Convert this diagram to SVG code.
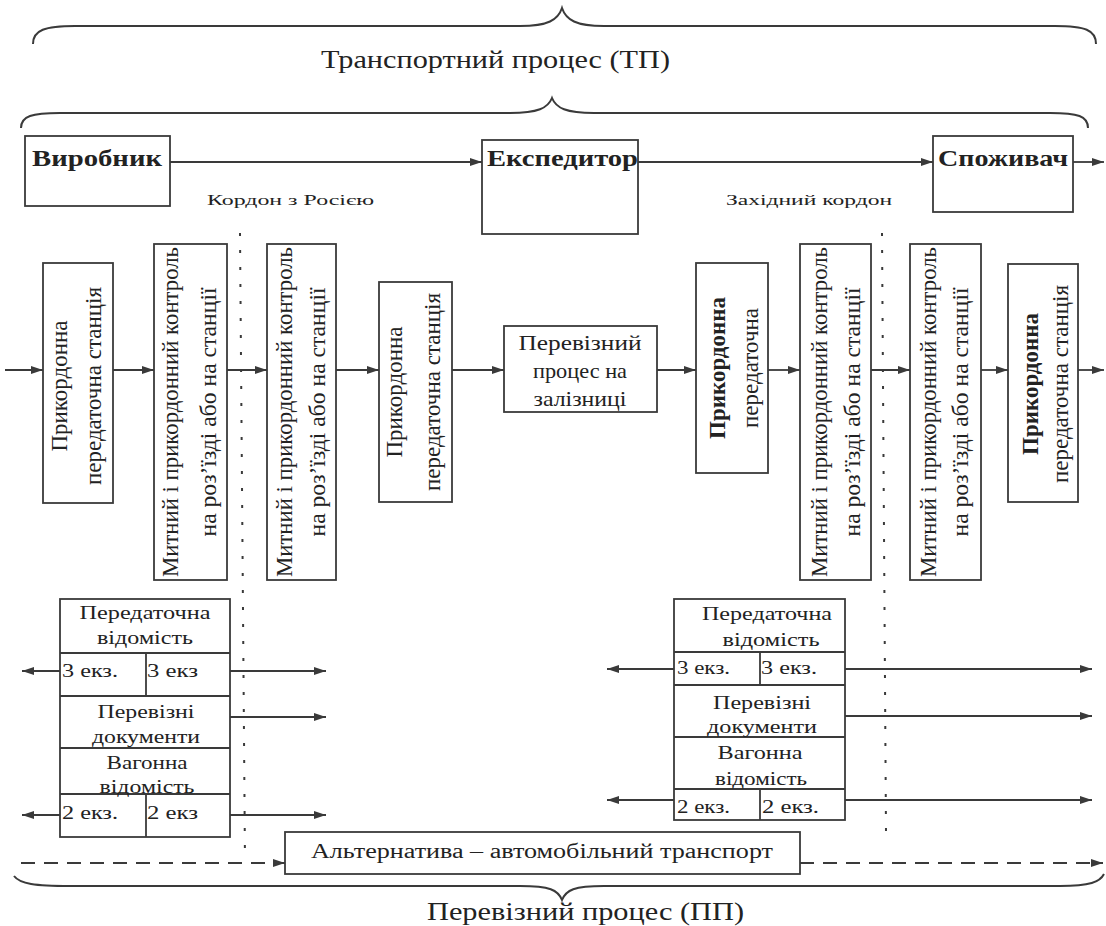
<svg xmlns="http://www.w3.org/2000/svg" width="1106" height="926" viewBox="0 0 1106 926">
<style>
.bx{fill:#fff;stroke:#3a3a3a;stroke-width:1.8}
.ln{fill:none;stroke:#3a3a3a;stroke-width:1.8}
.ar{fill:none;stroke:#3a3a3a;stroke-width:1.8;marker-end:url(#ah)}
.dash{fill:none;stroke:#3a3a3a;stroke-width:1.8;stroke-dasharray:14 9}
.dot{fill:none;stroke:#3a3a3a;stroke-width:2;stroke-dasharray:3 14}
.br{fill:none;stroke:#3a3a3a;stroke-width:2}
text{font-family:"Liberation Serif","Times New Roman",serif;fill:#222}
.t{font-size:25px}
.hb{font-size:24px;font-weight:bold}
.sm{font-size:15px}
.v{font-size:23px;text-anchor:middle}
.vb{font-size:23px;text-anchor:middle;font-weight:bold}
.c{font-size:22px;text-anchor:middle}
.tb{font-size:18px;text-anchor:middle}
.tl{font-size:18px}
</style>
<defs>
<marker id="ah" viewBox="0 0 12 8" refX="12" refY="4" markerWidth="12" markerHeight="8" markerUnits="userSpaceOnUse" orient="auto"><path d="M0,0 L12,4 L0,8 z" fill="#3a3a3a"/></marker>
</defs>

<g id="braces">
<path class="br" d="M33,44 C33,30 45,26 75,26 L520,26 C548,26 558,20 562,8 C566,20 576,26 604,26 L1055,26 C1085,26 1096,30 1096,44"/>
<path class="br" d="M21,128 C21,116 32,113 60,113 L510,113 C538,113 548,108 552,98 C556,108 566,113 594,113 L1050,113 C1078,113 1088,116 1088,128"/>
<path class="br" d="M14,876 C20,884 35,886 70,886 L520,886 C550,886 558,890 562,900 C566,890 574,886 604,886 L1060,886 C1090,886 1100,882 1104,874"/>
</g>

<g id="titles">
<text class="t" x="321" y="68" textLength="349" lengthAdjust="spacingAndGlyphs">Транспортний процес (ТП)</text>
<text class="t" x="427" y="920" textLength="317" lengthAdjust="spacingAndGlyphs">Перевізний процес (ПП)</text>
<text class="sm" x="207" y="205" textLength="167" lengthAdjust="spacingAndGlyphs">Кордон з Росією</text>
<text class="sm" x="726" y="205" textLength="166" lengthAdjust="spacingAndGlyphs">Західний кордон</text>
</g>

<g id="borders">
<line class="dot" x1="240" y1="233" x2="245" y2="862"/>
<line class="dot" x1="882" y1="233" x2="886" y2="832"/>
</g>

<g id="connectors">
<line class="ar" x1="170" y1="162" x2="482" y2="162"/>
<line class="ar" x1="638" y1="162" x2="933" y2="162"/>
<line class="ar" x1="1073" y1="162" x2="1104" y2="162"/>
<line class="ar" x1="5" y1="370" x2="43" y2="370"/>
<line class="ar" x1="113" y1="370" x2="154" y2="370"/>
<line class="ar" x1="227" y1="370" x2="267" y2="370"/>
<line class="ar" x1="336" y1="370" x2="379" y2="370"/>
<line class="ar" x1="452" y1="370" x2="504" y2="370"/>
<line class="ar" x1="657" y1="370" x2="696" y2="370"/>
<line class="ar" x1="768" y1="370" x2="800" y2="370"/>
<line class="ar" x1="871" y1="370" x2="910" y2="370"/>
<line class="ar" x1="981" y1="370" x2="1008" y2="370"/>
<line class="ar" x1="1078" y1="370" x2="1104" y2="370"/>
<line class="ar" x1="60" y1="671" x2="22" y2="671"/>
<line class="ar" x1="230" y1="671" x2="326" y2="671"/>
<line class="ar" x1="230" y1="717" x2="326" y2="717"/>
<line class="ar" x1="60" y1="815" x2="22" y2="815"/>
<line class="ar" x1="230" y1="815" x2="326" y2="815"/>
<line class="ar" x1="674" y1="669" x2="607" y2="669"/>
<line class="ar" x1="845" y1="669" x2="1092" y2="669"/>
<line class="ar" x1="845" y1="716" x2="1092" y2="716"/>
<line class="ar" x1="674" y1="800" x2="607" y2="800"/>
<line class="ar" x1="845" y1="800" x2="1092" y2="800"/>
<line class="ar dash" x1="21" y1="863" x2="285" y2="863"/>
<line class="ar dash" x1="800" y1="863" x2="1103" y2="863"/>
</g>

<g id="vyrobnyk">
<rect class="bx" x="25" y="136" width="145" height="70"/>
<text class="hb" x="32" y="166" textLength="130" lengthAdjust="spacingAndGlyphs">Виробник</text>
</g>
<g id="ekspedytor">
<rect class="bx" x="482" y="140" width="156" height="94"/>
<text class="hb" x="487" y="166" textLength="151" lengthAdjust="spacingAndGlyphs">Експедитор</text>
</g>
<g id="spozhyvach">
<rect class="bx" x="933" y="136" width="140" height="76"/>
<text class="hb" x="938" y="166" textLength="130" lengthAdjust="spacingAndGlyphs">Споживач</text>
</g>

<g id="st1">
<rect class="bx" x="43" y="263" width="70" height="240"/>
<g transform="translate(78,386) rotate(-90)">
<text class="v" x="0" y="-11">Прикордонна</text>
<text class="v" x="0" y="23">передаточна станція</text>
</g>
</g>
<g id="mk1">
<rect class="bx" x="154" y="244" width="73" height="336"/>
<g transform="translate(190,412) rotate(-90)">
<text class="v" x="0" y="-12" textLength="330" lengthAdjust="spacingAndGlyphs">Митний і прикордонний контроль</text>
<text class="v" x="0" y="26" textLength="249" lengthAdjust="spacingAndGlyphs">на роз’їзді або на станції</text>
</g>
</g>
<g id="mk2">
<rect class="bx" x="267" y="244" width="69" height="336"/>
<g transform="translate(301,412) rotate(-90)">
<text class="v" x="0" y="-9" textLength="330" lengthAdjust="spacingAndGlyphs">Митний і прикордонний контроль</text>
<text class="v" x="0" y="24" textLength="249" lengthAdjust="spacingAndGlyphs">на роз’їзді або на станції</text>
</g>
</g>
<g id="st2">
<rect class="bx" x="379" y="282" width="73" height="220"/>
<g transform="translate(415,392) rotate(-90)">
<text class="v" x="0" y="-13">Прикордонна</text>
<text class="v" x="0" y="25">передаточна станція</text>
</g>
</g>
<g id="pp">
<rect class="bx" x="504" y="326" width="153" height="86"/>
<text class="c" x="580" y="350" textLength="123" lengthAdjust="spacingAndGlyphs">Перевізний</text>
<text class="c" x="580" y="378" textLength="94" lengthAdjust="spacingAndGlyphs">процес на</text>
<text class="c" x="580" y="406" textLength="93" lengthAdjust="spacingAndGlyphs">залізниці</text>
</g>
<g id="st3">
<rect class="bx" x="696" y="263" width="72" height="210"/>
<g transform="translate(732,368) rotate(-90)">
<text class="vb" x="0" y="-7">Прикордонна</text>
<text class="v" x="0" y="26">передаточна</text>
</g>
</g>
<g id="mk3">
<rect class="bx" x="800" y="244" width="71" height="336"/>
<g transform="translate(835,412) rotate(-90)">
<text class="v" x="0" y="-8" textLength="330" lengthAdjust="spacingAndGlyphs">Митний і прикордонний контроль</text>
<text class="v" x="0" y="25" textLength="249" lengthAdjust="spacingAndGlyphs">на роз’їзді або на станції</text>
</g>
</g>
<g id="mk4">
<rect class="bx" x="910" y="244" width="71" height="336"/>
<g transform="translate(946,412) rotate(-90)">
<text class="v" x="0" y="-10" textLength="330" lengthAdjust="spacingAndGlyphs">Митний і прикордонний контроль</text>
<text class="v" x="0" y="22" textLength="249" lengthAdjust="spacingAndGlyphs">на роз’їзді або на станції</text>
</g>
</g>
<g id="st4">
<rect class="bx" x="1008" y="264" width="70" height="238"/>
<g transform="translate(1044,384) rotate(-90)">
<text class="vb" x="0" y="-6">Прикордонна</text>
<text class="v" x="0" y="24">передаточна станція</text>
</g>
</g>

<g id="docs-left">
<rect class="bx" x="60" y="599" width="170" height="238"/>
<line class="ln" x1="60" y1="653" x2="230" y2="653"/>
<line class="ln" x1="60" y1="696" x2="230" y2="696"/>
<line class="ln" x1="60" y1="748" x2="230" y2="748"/>
<line class="ln" x1="60" y1="794" x2="230" y2="794"/>
<line class="ln" x1="146" y1="653" x2="146" y2="696"/>
<line class="ln" x1="146" y1="794" x2="146" y2="837"/>
<text class="tb" x="145" y="619" textLength="131" lengthAdjust="spacingAndGlyphs">Передаточна</text>
<text class="tb" x="145" y="644" textLength="96" lengthAdjust="spacingAndGlyphs">відомість</text>
<text class="tl" x="62" y="677" textLength="56" lengthAdjust="spacingAndGlyphs">3 екз.</text>
<text class="tl" x="147" y="677" textLength="51" lengthAdjust="spacingAndGlyphs">3 екз</text>
<text class="tb" x="146" y="718" textLength="97" lengthAdjust="spacingAndGlyphs">Перевізні</text>
<text class="tb" x="146" y="743" textLength="108" lengthAdjust="spacingAndGlyphs">документи</text>
<text class="tb" x="147" y="769" textLength="81" lengthAdjust="spacingAndGlyphs">Вагонна</text>
<text class="tb" x="147" y="793" textLength="95" lengthAdjust="spacingAndGlyphs">відомість</text>
<text class="tl" x="62" y="819" textLength="56" lengthAdjust="spacingAndGlyphs">2 екз.</text>
<text class="tl" x="147" y="819" textLength="51" lengthAdjust="spacingAndGlyphs">2 екз</text>
</g>

<g id="docs-right">
<rect class="bx" x="674" y="599" width="171" height="221"/>
<line class="ln" x1="674" y1="652" x2="845" y2="652"/>
<line class="ln" x1="674" y1="685" x2="845" y2="685"/>
<line class="ln" x1="674" y1="737" x2="845" y2="737"/>
<line class="ln" x1="674" y1="789" x2="845" y2="789"/>
<line class="ln" x1="760" y1="652" x2="760" y2="685"/>
<line class="ln" x1="760" y1="789" x2="760" y2="820"/>
<text class="tb" x="767" y="620" textLength="130" lengthAdjust="spacingAndGlyphs">Передаточна</text>
<text class="tb" x="771" y="646" textLength="97" lengthAdjust="spacingAndGlyphs">відомість</text>
<text class="tl" x="677" y="674" textLength="53" lengthAdjust="spacingAndGlyphs">3 екз.</text>
<text class="tl" x="761" y="674" textLength="56" lengthAdjust="spacingAndGlyphs">3 екз.</text>
<text class="tb" x="762" y="709" textLength="98" lengthAdjust="spacingAndGlyphs">Перевізні</text>
<text class="tb" x="762" y="733" textLength="110" lengthAdjust="spacingAndGlyphs">документи</text>
<text class="tb" x="760" y="759" textLength="85" lengthAdjust="spacingAndGlyphs">Вагонна</text>
<text class="tb" x="761" y="785" textLength="92" lengthAdjust="spacingAndGlyphs">відомість</text>
<text class="tl" x="677" y="813" textLength="53" lengthAdjust="spacingAndGlyphs">2 екз.</text>
<text class="tl" x="762" y="813" textLength="57" lengthAdjust="spacingAndGlyphs">2 екз.</text>
</g>

<g id="alt">
<rect class="bx" x="285" y="832" width="515" height="42"/>
<text class="c" x="542" y="858" style="font-size:20px" textLength="462" lengthAdjust="spacingAndGlyphs">Альтернатива – автомобільний транспорт</text>
</g>
</svg>
